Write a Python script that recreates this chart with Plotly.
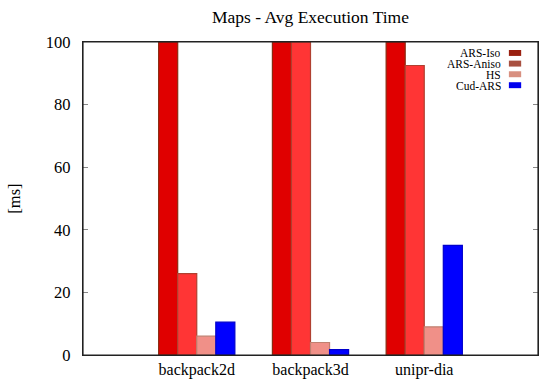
import plotly.graph_objects as go

categories = ["backpack2d", "backpack3d", "unipr-dia"]
series_names = ["ARS-Iso", "ARS-Aniso", "HS", "Cud-ARS"]
# values above 100 are clipped by the y range in the reference
ars_iso = [100, 100, 100]
ars_aniso = [26, 100, 92.5]
hs = [6, 4, 9]
cud_ars = [10.5, 1.7, 35]
series_values = [ars_iso, ars_aniso, hs, cud_ars]
y_ticks = [0, 20, 40, 60, 80, 100]

bar_fill = ["#e00000", "#ff3535", "#f09088", "#0000ff"]
bar_line = ["#8a2a10", "#b04030", "#c08070", "#0000cc"]
legend_colors = ["#9a2010", "#a85040", "#d89080", "#0000ee"]

FONT = "Liberation Serif"

fig = go.Figure()
for name, vals, fc, lc in zip(series_names, series_values, bar_fill, bar_line):
    fig.add_trace(go.Bar(
        x=categories, y=vals, name=name,
        marker=dict(color=fc, line=dict(color=lc, width=1.2)),
        showlegend=False,
    ))

fig.update_layout(
    width=550, height=392,
    margin=dict(l=83, r=12, t=42, b=37, autoexpand=False),
    paper_bgcolor="white", plot_bgcolor="white",
    barmode="group", bargap=0.33, bargroupgap=0,
    font=dict(family=FONT, color="black", size=15),
    title=dict(text="Maps - Avg Execution Time", x=0.5645, xanchor="center",
               y=0.957, yanchor="middle", font=dict(family=FONT, size=17.5)),
)
fig.update_xaxes(
    type="category", range=[-1, 3], automargin=False,
    showline=True, linecolor="#222", linewidth=1.2, mirror=True,
    ticks="", showgrid=False,
    tickfont=dict(family=FONT, size=16),
)
fig.update_yaxes(
    range=[0, 100], tickvals=y_ticks, automargin=False,
    showline=True, linecolor="#222", linewidth=1.2, mirror="ticks",
    ticks="inside", ticklen=5, tickcolor="#888",
    showgrid=False, zeroline=False,
    ticklabelstandoff=8,
    tickfont=dict(family=FONT, size=16.5),
    title=dict(text="[ms]", font=dict(family=FONT, size=16.5), standoff=21),
)

# plot frame
fig.add_shape(type="rect", xref="paper", yref="paper", x0=0, x1=1, y0=0, y1=1,
              line=dict(color="#222", width=1.2), fillcolor="rgba(0,0,0,0)",
              layer="above")

# custom legend: text right-aligned, swatch on the right
legend_y = [0.965, 0.931, 0.897, 0.862]
for name, col, yy in zip(series_names, legend_colors, legend_y):
    fig.add_annotation(
        xref="paper", yref="paper", x=0.921, y=yy,
        text=name, showarrow=False, xanchor="right", yanchor="middle",
        height=9, borderpad=0, valign="middle",
        font=dict(family=FONT, size=11.5, color="black"),
    )
    fig.add_shape(
        type="rect", xref="paper", yref="paper",
        x0=0.936, x1=0.963, y0=yy - 0.0095, y1=yy + 0.0095,
        fillcolor=col, line=dict(width=0),
    )

fig.write_html("out.html", config={"displayModeBar": False})

# remove default browser body margin so the figure fills the window exactly
with open("out.html", "r", encoding="utf-8") as f:
    html = f.read()
html = html.replace("<head>", "<head><style>html,body{margin:0;padding:0;overflow:hidden;}</style>", 1)
with open("out.html", "w", encoding="utf-8") as f:
    f.write(html)
